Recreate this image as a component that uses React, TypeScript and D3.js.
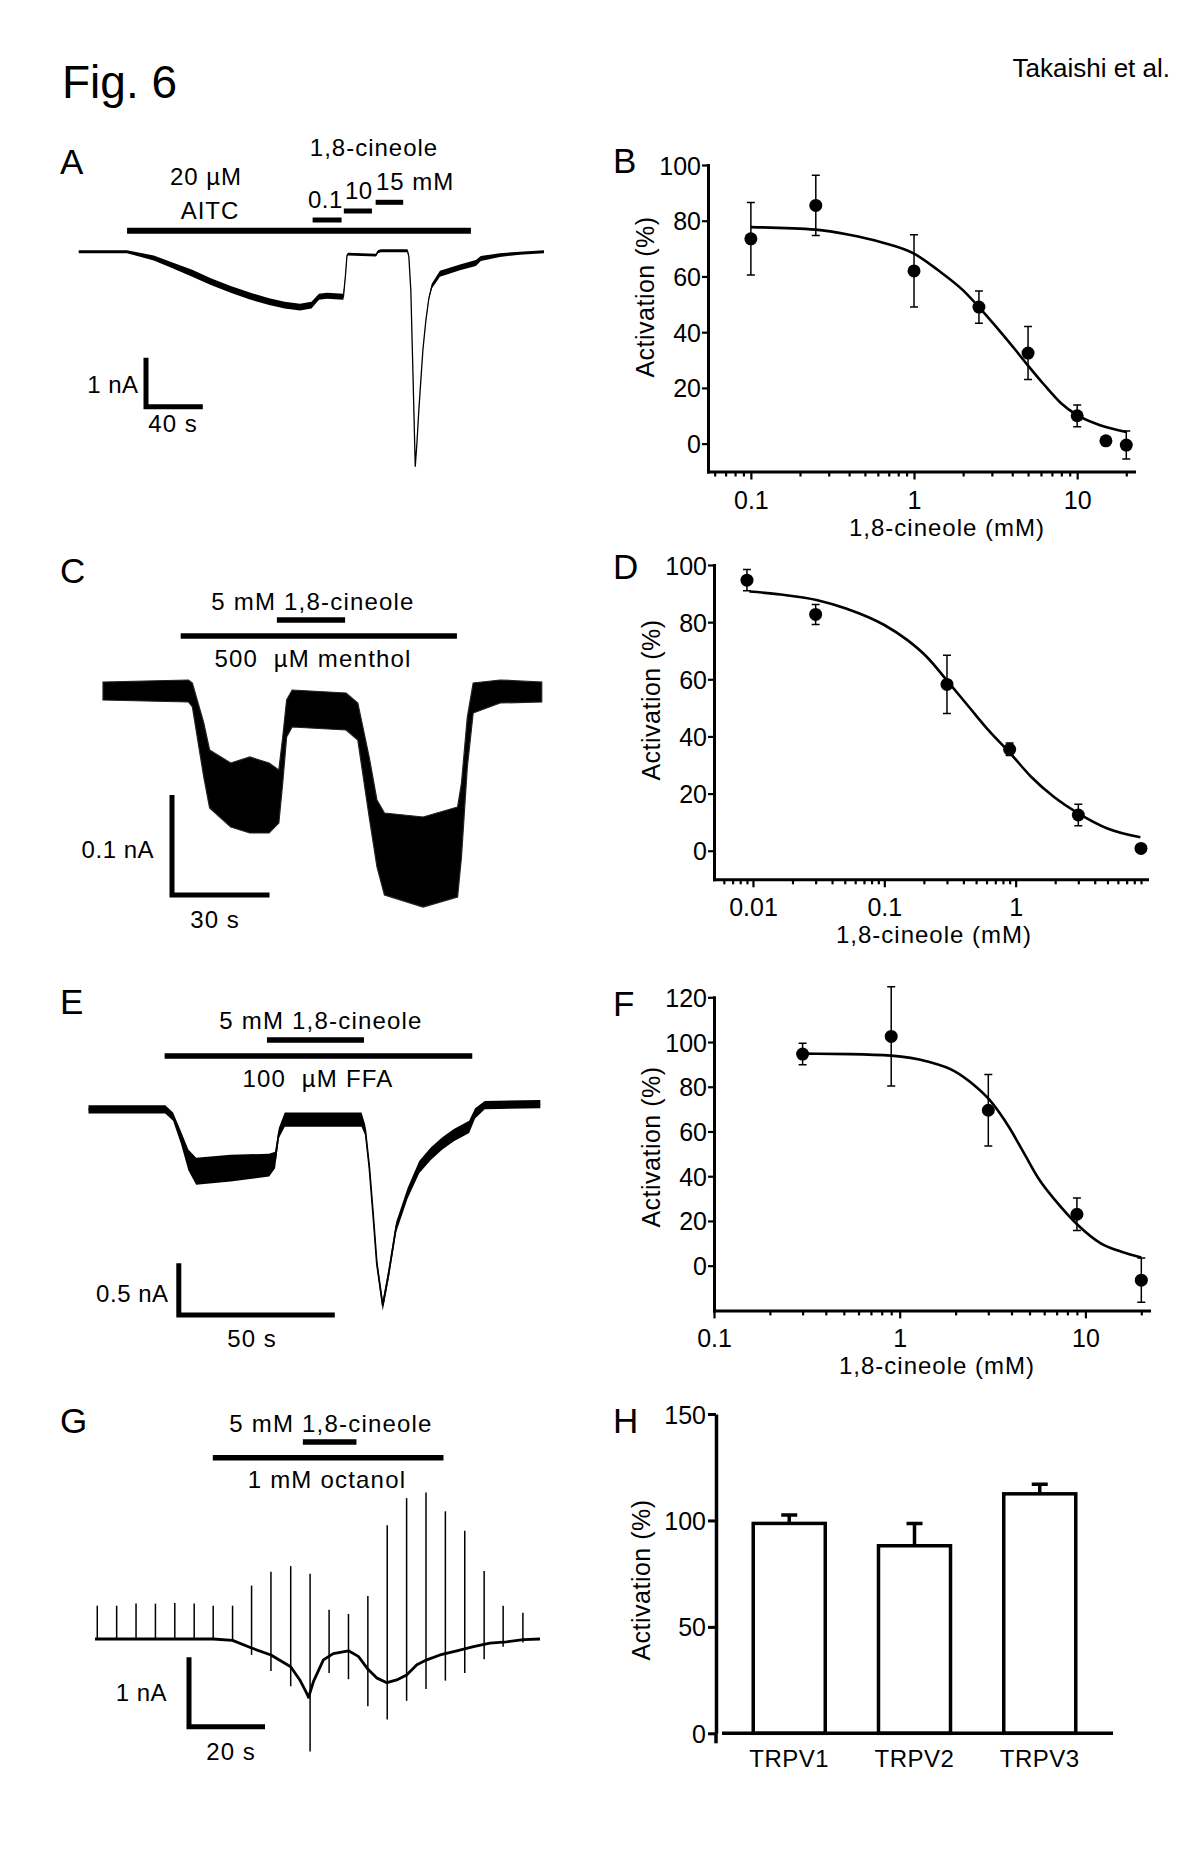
import { useEffect, useRef } from 'react';
import * as d3 from 'd3';

const W = 1200;
const H = 1871;
const FONT = "'Liberation Sans', Arial, Helvetica, sans-serif";

// A: 20 uM AITC + 1,8-cineole (time s, current nA, half-width of noise band nA)
const aTime = [0, 33.9, 52.8, 66, 79.9, 93, 107, 120, 134.1, 145, 155.8, 163.9, 169.2, 174.8, 186.4, 187.8, 188.9, 189.6, 209.3, 210.7, 212.8, 231.5, 232.5, 233.9, 235.4, 237.0, 238.2, 239.6, 241.0, 242.4, 244.5, 246.6, 248.7, 254.4, 268.5, 279.7, 283.2, 296.5, 310.6, 327.7];
const aCurrent = [0, 0, -0.13, -0.28, -0.44, -0.61, -0.77, -0.9, -1.02, -1.09, -1.13, -1.09, -0.92, -0.9, -0.92, -0.5, -0.08, -0.05, -0.07, 0.0, 0.02, 0.02, -0.1, -0.8, -2.5, -4.39, -3.9, -3.2, -2.6, -2.0, -1.4, -0.95, -0.7, -0.45, -0.32, -0.23, -0.14, -0.07, -0.03, 0];
const aNoise = [0.03, 0.03, 0.05, 0.06, 0.07, 0.07, 0.07, 0.07, 0.07, 0.07, 0.07, 0.07, 0.06, 0.06, 0.06, 0.02, 0.02, 0.03, 0.03, 0.03, 0.03, 0.03, 0.01, 0.01, 0.01, 0.01, 0.01, 0.01, 0.01, 0.01, 0.01, 0.02, 0.05, 0.06, 0.06, 0.06, 0.05, 0.04, 0.03, 0.03];

// B: 1,8-cineole vs AITC
const bDose = [0.1, 0.25, 1, 2.5, 5, 10, 15, 20];
const bMean = [73.5, 85.5, 62, 49, 32.5, 10, 1, -0.5];
const bSem = [13, 10.8, 13, 5.8, 9.5, 3.9, 0, 5];
const bFitDose = [0.1, 0.25, 0.4, 0.63, 1, 1.4, 2, 2.5, 3.2, 4.2, 5, 6.2, 8, 10, 14, 20];
const bFitValue = [77.7, 76.8, 75, 72.3, 68.2, 62.3, 55, 49, 41.8, 33.5, 28, 21.5, 14.4, 10.2, 6.5, 4.2];
const bMajor = [0.1, 1, 10];

// C: menthol + 5 mM 1,8-cineole (time s, upper / lower edge of trace pA)
const cTime = [0, 26.3, 27.5, 31, 32.8, 39.3, 45.2, 51.1, 54.1, 55.3, 56.5, 58.2, 74.8, 78.4, 81.9, 84.3, 86.6, 98.5, 109.1, 110.3, 112.1, 113.9, 122.2, 135];
const cHigh = [8, 10, 7, -33, -60, -73, -67, -73, -80, -47, -10, 0, -3, -13, -67, -110, -123, -127, -117, -93, -27, 7, 10, 8];
const cLow = [-10, -12, -17, -87, -118, -137, -143, -143, -133, -93, -47, -37, -40, -50, -127, -177, -205, -217, -207, -167, -77, -23, -13, -12];

// D: 1,8-cineole vs menthol
const dDose = [0.009, 0.03, 0.3, 0.9, 3, 9];
const dMean = [94.7, 82.7, 58.2, 35.5, 12.5, 0.8];
const dSem = [3.7, 3.5, 10.2, 2.2, 3.8, 0];
const dFitDose = [0.0094, 0.0163, 0.031, 0.051, 0.1, 0.15, 0.21, 0.305, 0.44, 0.62, 0.91, 1.31, 1.95, 3, 5, 8.9];
const dFitValue = [90.7, 89.7, 87.7, 84.8, 79, 73.7, 67.9, 59.2, 50.4, 42.2, 34.1, 25.9, 18.9, 13.1, 7.8, 4.7];
const dMajor = [0.01, 0.1, 1, 10];

// E: FFA + 5 mM 1,8-cineole (time s, current nA, noise nA)
const eTime = [0, 24.6, 27.1, 29.6, 32.0, 34.5, 45.6, 57.9, 59.8, 61.0, 62.9, 70.3, 87.5, 88.7, 90.0, 91.2, 92.4, 94.3, 96.2, 98.6, 102.3, 106.0, 109.7, 113.4, 117.1, 122.0, 123.9, 127.0, 144.8];
const eCurrent = [0, 0, -0.07, -0.27, -0.49, -0.6, -0.57, -0.54, -0.49, -0.23, -0.1, -0.1, -0.1, -0.2, -0.56, -1.01, -1.49, -1.9, -1.59, -1.14, -0.81, -0.56, -0.43, -0.33, -0.25, -0.17, -0.04, 0.04, 0.05];
const eNoise = [0.04, 0.04, 0.04, 0.06, 0.1, 0.13, 0.13, 0.11, 0.08, 0.05, 0.07, 0.07, 0.07, 0.05, 0.04, 0.04, 0.04, 0.05, 0.05, 0.05, 0.05, 0.06, 0.06, 0.06, 0.06, 0.06, 0.05, 0.04, 0.04];

// F: 1,8-cineole vs FFA
const fDose = [0.3, 0.9, 3, 9, 20];
const fMean = [94.6, 102.5, 69.5, 23, -6.5];
const fSem = [4.8, 22.2, 16, 7.3, 9.9];
const fFitDose = [0.3, 0.54, 0.9, 1.41, 1.98, 2.5, 3.04, 3.86, 4.67, 5.65, 6.85, 9.1, 12.1, 15.5, 20];
const fFitValue = [94.8, 94.6, 93.9, 91.3, 86.9, 80.9, 74.2, 62.2, 50.3, 38.4, 29.4, 18.2, 10, 6.3, 3.7];
const fMajor = [0.1, 1, 10];

// G: octanol + 5 mM 1,8-cineole (time s, current nA) and stimulus spikes
const gTime = [0, 31.1, 36.2, 41.2, 46.3, 51.5, 53.9, 55.7, 56.2, 57.5, 60.1, 62.7, 66.7, 69.3, 71.9, 74.1, 76.8, 79.4, 82.0, 84.7, 87.3, 90.8, 95.2, 99.6, 103.9, 108.3, 112.7, 117.1];
const gCurrent = [0, 0, -0.02, -0.13, -0.23, -0.40, -0.59, -0.78, -0.84, -0.61, -0.30, -0.21, -0.17, -0.25, -0.44, -0.56, -0.63, -0.59, -0.52, -0.37, -0.30, -0.23, -0.17, -0.11, -0.06, -0.04, -0.01, 0];
const gSpikeTime = [0.6, 5.7, 10.8, 15.9, 21.0, 26.1, 31.1, 36.2, 41.2, 46.3, 51.5, 56.6, 61.6, 66.7, 71.8, 76.9, 82.0, 87.1, 92.2, 97.3, 102.4, 107.4, 112.6];
const gSpikeTop = [0.48, 0.48, 0.51, 0.51, 0.52, 0.51, 0.48, 0.48, 0.77, 0.97, 1.05, 0.94, 0.42, 0.36, 0.62, 1.64, 2.03, 2.11, 1.84, 1.56, 0.98, 0.48, 0.38];
const gSpikeBottom = [0, 0, 0, 0, 0, 0, 0, -0.04, -0.23, -0.46, -0.68, -1.62, -0.49, -0.58, -0.97, -1.16, -0.89, -0.72, -0.60, -0.49, -0.29, -0.11, -0.05];

// H: TRPV channels
const hChannels = ['TRPV1', 'TRPV2', 'TRPV3'];
const hMean = [98.6, 88.1, 112.5];
const hSem = [3.9, 10.5, 4.5];
const hTicks = [0, 50, 100, 150];

const activationTicks = [0, 20, 40, 60, 80, 100];
const activationTicksF = [0, 20, 40, 60, 80, 100, 120];

const TICK_FONT = 25;

type Svg = d3.Selection<SVGSVGElement, unknown, null, undefined>;

function addText(svg: Svg, x: number, y: number, s: string, size = 24, anchor = 'start', spacing = 0) {
  return svg
    .append('text')
    .attr('x', x)
    .attr('y', y)
    .attr('font-family', FONT)
    .attr('font-size', size)
    .attr('text-anchor', anchor)
    .attr('letter-spacing', spacing)
    .style('white-space', 'pre')
    .attr('fill', '#000')
    .text(s);
}

function traceScales(tMax: number, xRange: [number, number], yZero: number, pxPerUnit: number) {
  const x = d3.scaleLinear().domain([0, tMax]).range(xRange);
  const y = d3.scaleLinear().domain([0, 1]).range([yZero, yZero - pxPerUnit]);
  return { x, y };
}

function stimBar(svg: Svg, x: d3.ScaleLinear<number, number>, t0: number, t1: number, yy: number, w = 5.5) {
  svg.append('line').attr('x1', x(t0)).attr('x2', x(t1)).attr('y1', yy).attr('y2', yy)
    .attr('stroke', '#000').attr('stroke-width', w);
}

function scaleBar(svg: Svg, x: d3.ScaleLinear<number, number>, y: d3.ScaleLinear<number, number>,
  cx: number, cy: number, dt: number, dv: number) {
  const w = x(dt) - x(0);
  const h = y(0) - y(dv);
  svg.append('path').attr('d', `M${cx},${cy - h}V${cy}H${cx + w}`)
    .attr('fill', 'none').attr('stroke', '#000').attr('stroke-width', 5);
}

interface DoseCfg {
  xDomain: [number, number];
  xRange: [number, number];
  yDomain: [number, number];
  yRange: [number, number];
  yTicks: number[];
  majors: number[];
  dose: number[];
  mean: number[];
  sem: number[];
  fitDose: number[];
  fitValue: number[];
  xLabelX: number;
  yLabelY: number;
}

function dosePanel(svg: Svg, c: DoseCfg) {
  const x = d3.scaleLog().domain(c.xDomain).range(c.xRange);
  const y = d3.scaleLinear().domain(c.yDomain).range(c.yRange);
  const axisX = c.xRange[0];
  const axisY = c.yRange[0];

  const tickVals: number[] = [];
  const lo = Math.floor(Math.log10(c.xDomain[0]));
  const hi = Math.ceil(Math.log10(c.xDomain[1]));
  for (let d = lo; d < hi; d++) {
    for (let k = 1; k < 10; k++) {
      const v = k * Math.pow(10, d);
      if (v >= c.xDomain[0] * 0.999 && v <= c.xDomain[1] * 1.001) tickVals.push(v);
    }
  }
  const majorOf = (v: number) => c.majors.find((m) => Math.abs(m - v) / m < 1e-6);

  const gx = svg.append('g').attr('transform', `translate(0,${axisY})`)
    .call(d3.axisBottom(x).tickValues(tickVals).tickSize(5).tickSizeOuter(0)
      .tickFormat((v) => { const m = majorOf(+v); return m === undefined ? '' : String(m); }));
  gx.select('.domain').attr('stroke-width', 3).attr('stroke-linecap', 'square');
  gx.selectAll<SVGLineElement, number>('.tick line').attr('stroke-width', 2.2)
    .attr('y2', (d) => (majorOf(d) === undefined ? 5 : 8));
  gx.selectAll('.tick text').attr('font-family', FONT).attr('font-size', TICK_FONT).attr('y', 37).attr('dy', null);

  const gy = svg.append('g').attr('transform', `translate(${axisX},0)`)
    .call(d3.axisLeft(y).tickValues(c.yTicks).tickSize(6).tickSizeOuter(0));
  gy.select('.domain').attr('stroke-width', 3).attr('stroke-linecap', 'square');
  gy.selectAll('.tick line').attr('stroke-width', 2.2);
  gy.selectAll('.tick text').attr('font-family', FONT).attr('font-size', TICK_FONT).attr('x', -7).attr('dy', '0.36em');

  svg.append('path')
    .datum(c.fitDose.map((d, i) => [d, c.fitValue[i]] as [number, number]))
    .attr('fill', 'none').attr('stroke', '#000').attr('stroke-width', 2.6)
    .attr('d', d3.line<[number, number]>().x((d) => x(d[0])).y((d) => y(d[1])).curve(d3.curveMonotoneX));

  c.dose.forEach((d, i) => {
    const s = c.sem[i];
    if (s > 0) {
      const cx = x(d);
      const top = y(c.mean[i] + s);
      const bot = y(c.mean[i] - s);
      svg.append('path').attr('d', `M${cx},${top}V${bot}M${cx - 4},${top}H${cx + 4}M${cx - 4},${bot}H${cx + 4}`)
        .attr('fill', 'none').attr('stroke', '#000').attr('stroke-width', 1.5);
    }
    svg.append('circle').attr('cx', x(d)).attr('cy', y(c.mean[i])).attr('r', 6.5).attr('fill', '#000');
  });

  addText(svg, c.xLabelX, axisY + 64, '1,8-cineole (mM)', 24, 'middle', 1);
  svg.append('text')
    .attr('transform', `translate(${axisX - 54},${c.yLabelY}) rotate(-90)`)
    .attr('font-family', FONT).attr('font-size', 25).attr('text-anchor', 'middle').attr('letter-spacing', 0.5)
    .text('Activation (%)');
}

export default function App() {
  const svgRef = useRef<SVGSVGElement>(null);

  useEffect(() => {
    if (!svgRef.current) return;
    const svg = d3.select(svgRef.current) as Svg;
    svg.selectAll('*').remove();
    svg.append('rect').attr('width', W).attr('height', H).attr('fill', '#fff');

    addText(svg, 62, 98, 'Fig. 6', 46);
    addText(svg, 1170, 77, 'Takaishi et al.', 26, 'end');
    const letters: [string, number, number][] = [
      ['A', 60, 174], ['B', 613, 173], ['C', 60, 583], ['D', 613, 579],
      ['E', 60, 1014], ['F', 613, 1016], ['G', 60, 1433], ['H', 613, 1433],
    ];
    letters.forEach(([s, lx, ly]) => addText(svg, lx, ly, s, 35));

    // ---------- A ----------
    {
      const { x, y } = traceScales(327.7, [78.8, 544], 251.7, 49);
      const idx = aTime.map((_, i) => i);
      svg.append('path').datum(idx).attr('fill', '#000')
        .attr('d', d3.area<number>().x((i) => x(aTime[i])).y0((i) => y(aCurrent[i] - aNoise[i])).y1((i) => y(aCurrent[i] + aNoise[i])));
      svg.append('path').datum(idx).attr('fill', 'none').attr('stroke', '#000').attr('stroke-width', 1.3)
        .attr('d', d3.line<number>().x((i) => x(aTime[i])).y((i) => y(aCurrent[i])));
      stimBar(svg, x, 34.0, 276.2, 230.7, 6);
      stimBar(svg, x, 164.7, 185.1, 220, 5);
      stimBar(svg, x, 186.7, 206.5, 211, 5);
      stimBar(svg, x, 209.1, 228.5, 202.3, 5);
      addText(svg, 374, 156, '1,8-cineole', 24, 'middle', 1);
      addText(svg, 206, 185, '20 µM', 24, 'middle', 1);
      addText(svg, 210, 219, 'AITC', 24, 'middle', 1);
      addText(svg, 308, 207.7, '0.1', 24, 'start', 0.5);
      addText(svg, 345, 199, '10', 24, 'start', 0.5);
      addText(svg, 376, 190, '15 mM', 24, 'start', 1);
      scaleBar(svg, x, y, 146, 406.7, 40, 1);
      addText(svg, 138.5, 393, '1 nA', 24, 'end', 0.5);
      addText(svg, 173, 431.7, '40 s', 24, 'middle', 1);
    }

    // ---------- C ----------
    {
      const { x, y } = traceScales(135, [103, 541.75], 690, 1);
      const idx = cTime.map((_, i) => i);
      svg.append('path').datum(idx).attr('fill', '#000').attr('stroke', '#222').attr('stroke-width', 1.2)
        .attr('d', d3.area<number>().x((i) => x(cTime[i])).y0((i) => y(cLow[i])).y1((i) => y(cHigh[i])));
      stimBar(svg, x, 53.5, 74.5, 620);
      stimBar(svg, x, 23.9, 108.9, 636);
      addText(svg, 313, 610, '5 mM 1,8-cineole', 24, 'middle', 1.2);
      addText(svg, 313, 667, '500  µM menthol', 24, 'middle', 1.2);
      scaleBar(svg, x, y, 172, 895, 30, 100);
      addText(svg, 154, 858, '0.1 nA', 24, 'end', 0.5);
      addText(svg, 215, 928, '30 s', 24, 'middle', 1);
    }

    // ---------- E ----------
    {
      const { x, y } = traceScales(144.8, [88.5, 540.3], 1109.3, 103.3);
      const idx = eTime.map((_, i) => i);
      svg.append('path').datum(idx).attr('fill', '#000')
        .attr('d', d3.area<number>().x((i) => x(eTime[i])).y0((i) => y(eCurrent[i] - eNoise[i])).y1((i) => y(eCurrent[i] + eNoise[i])));
      svg.append('path').datum(idx).attr('fill', 'none').attr('stroke', '#000').attr('stroke-width', 1.8)
        .attr('d', d3.line<number>().x((i) => x(eTime[i])).y((i) => y(eCurrent[i])));
      stimBar(svg, x, 57.2, 88.3, 1040);
      stimBar(svg, x, 24.4, 123.0, 1056);
      addText(svg, 321, 1029, '5 mM 1,8-cineole', 24, 'middle', 1.2);
      addText(svg, 318, 1087, '100  µM FFA', 24, 'middle', 1.2);
      scaleBar(svg, x, y, 178.8, 1315, 50, 0.5);
      addText(svg, 168.5, 1302, '0.5 nA', 24, 'end', 0.5);
      addText(svg, 252, 1347, '50 s', 24, 'middle', 1);
    }

    // ---------- G ----------
    {
      const { x, y } = traceScales(117.1, [95, 540], 1639, 69.4);
      gSpikeTime.forEach((t, i) => {
        svg.append('line').attr('x1', x(t)).attr('x2', x(t))
          .attr('y1', y(gSpikeBottom[i])).attr('y2', y(gSpikeTop[i]))
          .attr('stroke', '#000').attr('stroke-width', 1.5);
      });
      svg.append('path').datum(gTime.map((_, i) => i)).attr('fill', 'none').attr('stroke', '#000').attr('stroke-width', 2.8)
        .attr('stroke-linejoin', 'round')
        .attr('d', d3.line<number>().x((i) => x(gTime[i])).y((i) => y(gCurrent[i])));
      stimBar(svg, x, 54.7, 68.8, 1442);
      stimBar(svg, x, 31.0, 91.7, 1457.7);
      addText(svg, 331, 1432, '5 mM 1,8-cineole', 24, 'middle', 1.2);
      addText(svg, 327, 1488, '1 mM octanol', 24, 'middle', 1.2);
      scaleBar(svg, x, y, 189, 1726.7, 20, 1);
      addText(svg, 167, 1701, '1 nA', 24, 'end', 0.5);
      addText(svg, 231, 1760, '20 s', 24, 'middle', 1);
    }

    // ---------- B, D, F ----------
    dosePanel(svg, {
      xDomain: [0.0546, 22.3], xRange: [708, 1134], yDomain: [-10, 100], yRange: [471.5, 165],
      yTicks: activationTicks, majors: bMajor, dose: bDose, mean: bMean, sem: bSem,
      fitDose: bFitDose, fitValue: bFitValue, xLabelX: 947, yLabelY: 297,
    });
    dosePanel(svg, {
      xDomain: [0.00505, 10], xRange: [714, 1147], yDomain: [-10, 100], yRange: [879.3, 565],
      yTicks: activationTicks, majors: dMajor, dose: dDose, mean: dMean, sem: dSem,
      fitDose: dFitDose, fitValue: dFitValue, xLabelX: 934, yLabelY: 700,
    });
    dosePanel(svg, {
      xDomain: [0.1, 22], xRange: [714, 1149], yDomain: [-20, 120], yRange: [1310.4, 997.3],
      yTicks: activationTicksF, majors: fMajor, dose: fDose, mean: fMean, sem: fSem,
      fitDose: fFitDose, fitValue: fFitValue, xLabelX: 937, yLabelY: 1147,
    });

    // ---------- H ----------
    {
      const axisX = 716;
      const y = d3.scaleLinear().domain([0, 150]).range([1733.3, 1414]);
      const x = d3.scaleBand<string>().domain(hChannels).range([700, 1129]).paddingInner(0.425).paddingOuter(0.425);
      const gy = svg.append('g').attr('transform', `translate(${axisX},0)`)
        .call(d3.axisLeft(y).tickValues(hTicks).tickSize(8).tickSizeOuter(0));
      gy.select('.domain').attr('stroke-width', 3.5);
      gy.selectAll('.tick line').attr('stroke-width', 3);
      gy.selectAll('.tick text').attr('font-family', FONT).attr('font-size', TICK_FONT).attr('x', -10).attr('dy', '0.36em');
      svg.append('line').attr('x1', axisX).attr('x2', axisX).attr('y1', y(0)).attr('y2', y(0) + 10)
        .attr('stroke', '#000').attr('stroke-width', 3.5);
      hChannels.forEach((ch, i) => {
        const bx = x(ch) as number;
        const cx = bx + x.bandwidth() / 2;
        svg.append('path').attr('d', `M${cx},${y(hMean[i])}V${y(hMean[i] + hSem[i])}M${cx - 8},${y(hMean[i] + hSem[i])}H${cx + 8}`)
          .attr('fill', 'none').attr('stroke', '#000').attr('stroke-width', 3.5);
        svg.append('rect').attr('x', bx).attr('y', y(hMean[i])).attr('width', x.bandwidth())
          .attr('height', y(0) - y(hMean[i])).attr('fill', '#fff').attr('stroke', '#000').attr('stroke-width', 3.5);
        addText(svg, cx, 1767, ch, 24, 'middle', 0.5);
      });
      svg.append('line').attr('x1', 722).attr('x2', 1113).attr('y1', y(0)).attr('y2', y(0))
        .attr('stroke', '#000').attr('stroke-width', 3.5);
      svg.append('text')
        .attr('transform', `translate(${axisX - 66},1580) rotate(-90)`)
        .attr('font-family', FONT).attr('font-size', 25).attr('text-anchor', 'middle').attr('letter-spacing', 0.5)
        .text('Activation (%)');
    }
  }, []);

  return (
    <svg
      ref={svgRef}
      width={W}
      height={H}
      style={{ position: 'absolute', left: 0, top: 0, display: 'block' }}
    />
  );
}
